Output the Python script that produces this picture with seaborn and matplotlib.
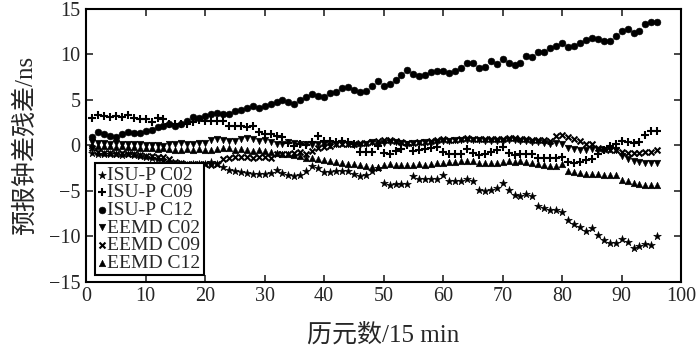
import numpy as np
import pandas as pd
import seaborn as sns
import matplotlib
matplotlib.use('Agg')
import matplotlib.pyplot as plt

# epoch index (15 min steps)
epoch = list(range(1, 97))

isu_c02 = [-0.8, -0.9, -0.9, -1.0, -1.0, -1.1, -1.0, -1.1, -1.2, -1.3,
           -1.4, -1.5, -1.6, -1.8, -2.0, -2.1, -2.2, -2.0, -2.1, -2.1,
           -1.8, -2.0, -2.4, -2.7, -2.8, -2.9, -3.0, -3.2, -3.2, -3.1,
           -3.0, -2.7, -3.05, -3.3, -3.35, -3.3, -2.8, -2.3, -2.5, -2.9,
           -2.9, -2.8, -2.8, -2.8, -3.2, -3.4, -3.3, -2.8, -2.5, -4.15,
           -4.3, -4.25, -4.2, -4.2, -3.4, -3.65, -3.7, -3.7, -3.7, -3.3,
           -3.9, -3.9, -3.9, -3.7, -3.9, -4.9, -5.0, -4.9, -4.7, -4.1,
           -4.9, -5.4, -5.6, -5.3, -5.6, -6.65, -6.9, -7.1, -7.1, -7.3,
           -8.2, -8.65, -9.0, -9.4, -9.1, -9.8, -10.4, -10.75, -10.7, -10.3,
           -10.6, -11.3, -11.05, -10.8, -11.0, -10.0]

isu_c09 = [3.0, 3.35, 3.2, 3.15, 3.2, 3.15, 3.35, 3.0, 2.95, 2.9,
           2.6, 3.0, 2.9, 2.3, 2.3, 2.3, 2.4, 2.6, 2.8, 2.7,
           2.7, 2.65, 2.65, 2.1, 2.1, 2.1, 2.05, 2.1, 1.5, 1.3,
           1.25, 1.0, 0.9, 0.25, -0.1, 0.2, 0.0, 0.4, 1.05, 0.5,
           0.5, 0.4, 0.5, 0.4, 0.2, -0.7, -0.7, -0.7, -0.1, -0.85,
           -0.9, -0.6, -0.4, 0.0, -0.6, -0.5, -0.4, -0.3, -0.2, -0.7,
           -0.9, -0.9, -0.9, -0.4, -0.8, -1.1, -0.9, -0.7, -0.5, -0.2,
           -0.85, -1.05, -0.9, -0.9, -0.9, -1.35, -1.35, -1.35, -1.35, -1.3,
           -1.8, -1.9, -1.8, -1.6, -1.5, -1.0, -0.5, -0.1, 0.2, 0.5,
           0.4, 0.3, 0.4, 1.15, 1.6, 1.6]

isu_c12 = [0.95, 1.5, 1.25, 1.0, 0.95, 1.2, 1.45, 1.4, 1.35, 1.6,
           1.7, 2.05, 2.1, 2.35, 2.1, 2.35, 2.7, 3.1, 3.0, 3.25,
           3.45, 3.6, 3.5, 3.45, 3.8, 3.9, 4.1, 4.3, 4.1, 4.3,
           4.6, 4.8, 4.95, 4.8, 4.6, 5.0, 5.3, 5.6, 5.4, 5.3,
           5.8, 5.9, 6.3, 6.4, 6.1, 5.9, 6.0, 6.5, 7.1, 6.5,
           6.7, 7.2, 7.7, 8.3, 7.8, 7.6, 7.7, 8.1, 8.2, 8.2,
           7.95, 8.2, 8.5, 9.0, 9.0, 8.5, 8.6, 9.3, 8.95, 9.45,
           9.1, 8.8, 9.1, 9.85, 9.7, 10.25, 10.3, 10.7, 10.9, 11.2,
           10.85, 10.9, 11.3, 11.6, 11.75, 11.65, 11.5, 11.5, 12.0, 12.6,
           12.75, 12.4, 12.6, 13.3, 13.6, 13.6]

eemd_c02 = [0.4, 0.3, 0.3, 0.2, 0.3, 0.2, 0.2, 0.1, 0.1, 0.0,
            0.0, 0.0, -0.1, 0.1, 0.2, 0.3, 0.1, 0.2, 0.3, 0.3,
            0.6, 0.7, 0.6, 0.5, 0.5, 0.7, 0.8, 0.7, 0.5, 0.6,
            0.4, 0.2, 0.1, 0.4, 0.3, 0.2, 0.1, 0.0, 0.2, 0.1,
            0.0, 0.2, 0.3, 0.1, 0.0, 0.0, 0.2, 0.4, 0.2, 0.3,
            0.4, 0.4, 0.3, 0.2, 0.3, 0.3, 0.4, 0.3, 0.4, 0.5,
            0.5, 0.6, 0.6, 0.6, 0.6, 0.6, 0.5, 0.5, 0.5, 0.5,
            0.6, 0.6, 0.5, 0.5, 0.4, 0.4, 0.3, 0.2, 0.3, 0.1,
            -0.3, -0.4, -0.5, -0.5, -0.4, -0.5, -0.5, -0.4, -0.5, -1.2,
            -1.5, -1.7, -1.8, -1.9, -1.9, -1.9]

eemd_c09 = [-0.3, -0.7, -0.8, -0.8, -0.9, -0.8, -0.9, -0.9, -1.1, -1.2,
            -1.2, -1.3, -1.3, -1.5, -1.8, -1.9, -2.0, -2.1, -2.0, -2.1,
            -2.2, -2.0, -1.5, -1.4, -1.3, -1.3, -1.3, -1.4, -1.3, -1.3,
            -1.4, -1.0, -0.9, -0.9, -0.8, -0.7, -0.9, -0.6, -0.3, -0.2,
            -0.1, 0.1, 0.2, 0.2, 0.2, 0.3, 0.3, 0.4, 0.5, 0.6,
            0.6, 0.5, 0.4, 0.3, 0.3, 0.4, 0.4, 0.5, 0.6, 0.7,
            0.6, 0.6, 0.7, 0.8, 0.7, 0.7, 0.65, 0.7, 0.7, 0.7,
            0.8, 0.8, 0.7, 0.7, 0.6, 0.6, 0.6, 0.5, 1.0, 1.15,
            0.9, 0.7, 0.5, 0.2, 0.1, -0.3, -0.4, -0.5, -0.5, -0.7,
            -0.8, -0.8, -0.8, -0.7, -0.7, -0.5]

eemd_c12 = [0.0, -0.1, -0.1, -0.1, -0.2, -0.1, -0.2, -0.2, -0.3, -0.3,
            -0.3, -0.4, -0.3, -0.4, -0.5, -0.5, -0.4, -0.5, -0.4, -0.5,
            -0.5, -0.4, -0.3, -0.3, -0.5, -0.4, -0.5, -0.6, -0.5, -0.6,
            -0.7, -0.8, -1.0, -1.0, -1.1, -1.2, -1.4, -1.4, -1.5, -1.6,
            -1.7, -1.8, -1.9, -2.0, -2.1, -2.2, -2.3, -2.4, -2.4, -2.2,
            -2.1, -2.2, -2.2, -2.2, -2.2, -2.1, -2.2, -2.0, -1.9, -1.9,
            -1.8, -1.85, -1.75, -1.7, -1.7, -1.9, -1.9, -1.9, -1.9, -1.8,
            -1.7, -1.8, -1.7, -1.8, -1.9, -2.0, -2.2, -2.3, -2.3, -2.0,
            -2.8, -2.9, -3.0, -3.1, -3.1, -3.2, -3.3, -3.3, -3.3, -3.8,
            -3.9, -4.1, -4.2, -4.3, -4.4, -4.4]

series = [
    ('ISU-P C02', isu_c02, '*', 34),
    ('ISU-P C09', isu_c09, '+', 34),
    ('ISU-P C12', isu_c12, 'o', 24),
    ('EEMD C02', eemd_c02, 'v', 22),
    ('EEMD C09', eemd_c09, 'x', 18),
    ('EEMD C12', eemd_c12, '^', 22),
]

sns.set_style('ticks')
plt.rcParams['font.family'] = ['Liberation Serif', 'Noto Sans CJK SC']
plt.rcParams['axes.unicode_minus'] = True

fig = plt.figure(figsize=(7, 3.55), dpi=100)
ax = fig.add_axes([0.123, 0.206, 0.850, 0.769])

for name, vals, m, s in series:
    df = pd.DataFrame({'x': epoch, 'y': vals})
    if m in ('+', 'x'):
        sns.scatterplot(data=df, x='x', y='y', marker=m, color='k', s=s,
                        linewidth=1.5, label=name, ax=ax)
    else:
        sns.scatterplot(data=df, x='x', y='y', marker=m, color='k', s=s,
                        edgecolor='k', linewidth=0.4, label=name, ax=ax)

ax.set_xlim(0, 100)
ax.set_ylim(-15, 15)
ax.set_xticks(np.arange(0, 101, 10))
ax.set_yticks(np.arange(-15, 16, 5))
ax.tick_params(direction='in', length=5, width=1.2, top=True, right=True,
               labelsize=14.5, pad=4)
for sp in ax.spines.values():
    sp.set_visible(True)
    sp.set_linewidth(1.5)
    sp.set_color('k')

ax.set_xlabel('历元数/15 min', fontsize=18, labelpad=12)
ax.set_ylabel('预报钟差残差/ns', fontsize=18, labelpad=9)

leg = ax.legend(loc='lower left', bbox_to_anchor=(0.008, 0.012), fontsize=14,
                frameon=True, fancybox=False, handlelength=0.4,
                handletextpad=0.1, borderpad=0.15, labelspacing=0.0,
                borderaxespad=0.2, markerscale=1.0)
leg.get_frame().set_edgecolor('k')
leg.get_frame().set_linewidth(1.5)
leg.get_frame().set_alpha(1)

fig.savefig('out.png', dpi=100)
